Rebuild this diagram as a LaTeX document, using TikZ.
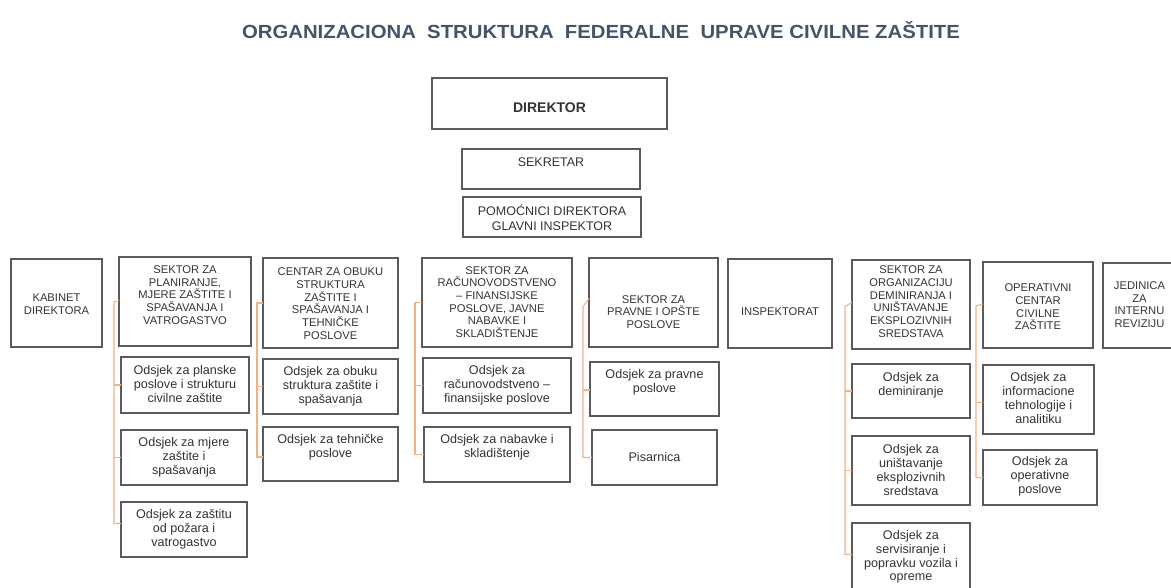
\documentclass[tikz,border=0pt]{standalone}
\usepackage{fontspec}
\setmainfont{Liberation Sans}
\definecolor{titlec}{HTML}{44546A}
\definecolor{boxc}{HTML}{5A5A5A}
\definecolor{txtc}{HTML}{333333}
\definecolor{brc}{HTML}{F4B183}
\newcommand\bx[8]{%
  \node[box, anchor=north west, minimum width={#4-#2}, minimum height={#5-#3}] (#1) at (#2,#3) {};
  \node[#7] (#1t) at ({(#2+#4)/2},#6) {#8};
}
\begin{document}
\begin{tikzpicture}[x=1pt,y=-1pt,
  box/.style={draw=boxc, line width=1.2pt, inner sep=0pt, outer sep=0pt},
  toptxt/.style={text=txtc, inner sep=0pt, align=center, font=\fontsize{12.5}{15}\selectfont},
  captxt/.style={text=txtc, inner sep=0pt, align=center, font=\fontsize{11.2}{12.7}\selectfont},
  lowtxt/.style={text=txtc, inner sep=0pt, align=center, font=\fontsize{12.6}{13.8}\selectfont},
  br/.style={draw=brc, line width=1.1pt}]
\useasboundingbox (0,0) rectangle (1171,588);
\node[text=titlec, font=\bfseries\fontsize{19}{22}\selectfont] (title) at (601,30)
  {\scalebox{1.07}[1]{ORGANIZACIONA \ STRUKTURA \ FEDERALNE \ UPRAVE CIVILNE ZAŠTITE}};
% top
\bx{dir}{432}{78}{667}{129}{108}{toptxt}{\fontsize{14}{16}\selectfont\bfseries DIREKTOR}
\bx{sek}{462}{149}{640}{189}{162}{toptxt}{SEKRETAR}
\bx{pom}{463}{197}{641}{237}{218}{toptxt}{POMOĆNICI DIREKTORA\\GLAVNI INSPEKTOR}
% row
\bx{kab}{11}{259}{102}{347}{304}{captxt}{KABINET\\DIREKTORA}
\bx{s1}{119}{257}{251}{346}{295}{captxt}{SEKTOR ZA\\PLANIRANJE,\\MJERE ZAŠTITE I\\SPAŠAVANJA I\\VATROGASTVO}
\bx{s1a}{121}{357}{249}{413}{384}{lowtxt}{Odsjek za planske\\poslove i strukturu\\civilne zaštite}
\bx{s1b}{121}{430}{247}{485}{457}{lowtxt}{Odsjek za mjere\\zaštite i\\spašavanja}
\bx{s1c}{121}{502}{247}{557}{529}{lowtxt}{Odsjek za zaštitu\\od požara i\\vatrogastvo}
\bx{s2}{263}{258}{398}{348}{303.5}{captxt}{CENTAR ZA OBUKU\\STRUKTURA\\ZAŠTITE I\\SPAŠAVANJA I\\TEHNIČKE\\POSLOVE}
\bx{s2a}{263}{359}{398}{414}{386}{lowtxt}{Odsjek za obuku\\struktura zaštite i\\spašavanja}
\bx{s2b}{263}{427}{398}{481}{447}{lowtxt}{Odsjek za tehničke\\poslove}
\bx{s3}{422}{258}{572}{347}{302}{captxt}{SEKTOR ZA\\RAČUNOVODSTVENO\\– FINANSIJSKE\\POSLOVE, JAVNE\\NABAVKE I\\SKLADIŠTENJE}
\bx{s3a}{423}{358}{571}{413}{385}{lowtxt}{Odsjek za\\računovodstveno –\\finansijske poslove}
\bx{s3b}{424}{427}{570}{482}{447}{lowtxt}{Odsjek za nabavke i\\skladištenje}
\bx{s4}{589}{258}{718}{347}{312}{captxt}{SEKTOR ZA\\PRAVNE I OPŠTE\\POSLOVE}
\bx{s4a}{590}{362}{719}{416}{382}{lowtxt}{Odsjek za pravne\\poslove}
\bx{s4b}{592}{430}{717}{485}{457}{lowtxt}{Pisarnica}
\bx{insp}{728}{259}{832}{348}{312}{captxt}{INSPEKTORAT}
\bx{s5}{852}{260}{970}{349}{301.5}{captxt}{SEKTOR ZA\\ORGANIZACIJU\\DEMINIRANJA I\\UNIŠTAVANJE\\EKSPLOZIVNIH\\SREDSTAVA}
\bx{s5a}{852}{364}{970}{418}{385}{lowtxt}{Odsjek za\\deminiranje}
\bx{s5b}{852}{436}{970}{505}{470}{lowtxt}{Odsjek za\\uništavanje\\eksplozivnih\\sredstava}
\bx{s5c}{852}{523}{970}{594}{557}{lowtxt}{Odsjek za\\servisiranje i\\popravku vozila i\\opreme}
\bx{s6}{983}{262}{1093}{348}{307}{captxt}{OPERATIVNI\\CENTAR\\CIVILNE\\ZAŠTITE}
\bx{s6a}{983}{365}{1094}{434}{398}{lowtxt}{Odsjek za\\informacione\\tehnologije i\\analitiku}
\bx{s6b}{983}{450}{1097}{505}{476}{lowtxt}{Odsjek za\\operativne\\poslove}
\bx{jed}{1103}{263}{1176}{348}{304.5}{captxt}{JEDINICA\\ZA\\INTERNU\\REVIZIJU}
% brackets
\draw[br] ([yshift=1]s1.west) -- (114,302) coordinate (p1) |- ([yshift=6]s1c.west);
\draw[br] (s1a.west) -- (s1a.west -| p1);
\draw[br] (s1b.west) -- (s1b.west -| p1);
\draw[br] (s2.west) -- (257,303) coordinate (p2) |- ([yshift=-3]s2b.west);
\draw[br] (s2a.west) -- (s2a.west -| p2);
\draw[br] (s3.west) -- (415,302.5) coordinate (p3) |- ([yshift=0]s3b.west);
\draw[br] (s3a.west) -- (s3a.west -| p3);
\draw[br] ([yshift=4]s4.west) -- (583,306.5) coordinate (p4) |- (s4b.west);
\draw[br] ([yshift=-1]s4a.west) -- ([yshift=-1]s4a.west -| p4);
\draw[br] ([yshift=2]s5.west) -- (845,306.5) coordinate (p5) |- ([yshift=4]s5c.west);
\draw[br] (s5a.west) -- (s5a.west -| p5);
\draw[br] (s5b.west) -- (s5b.west -| p5);
\draw[br] ([yshift=1]s6.west) -- (976,306) coordinate (p6) |- (s6b.west);
\draw[br] ([yshift=-3]s6a.west) -- ([yshift=-3]s6a.west -| p6);
\end{tikzpicture}
\end{document}
